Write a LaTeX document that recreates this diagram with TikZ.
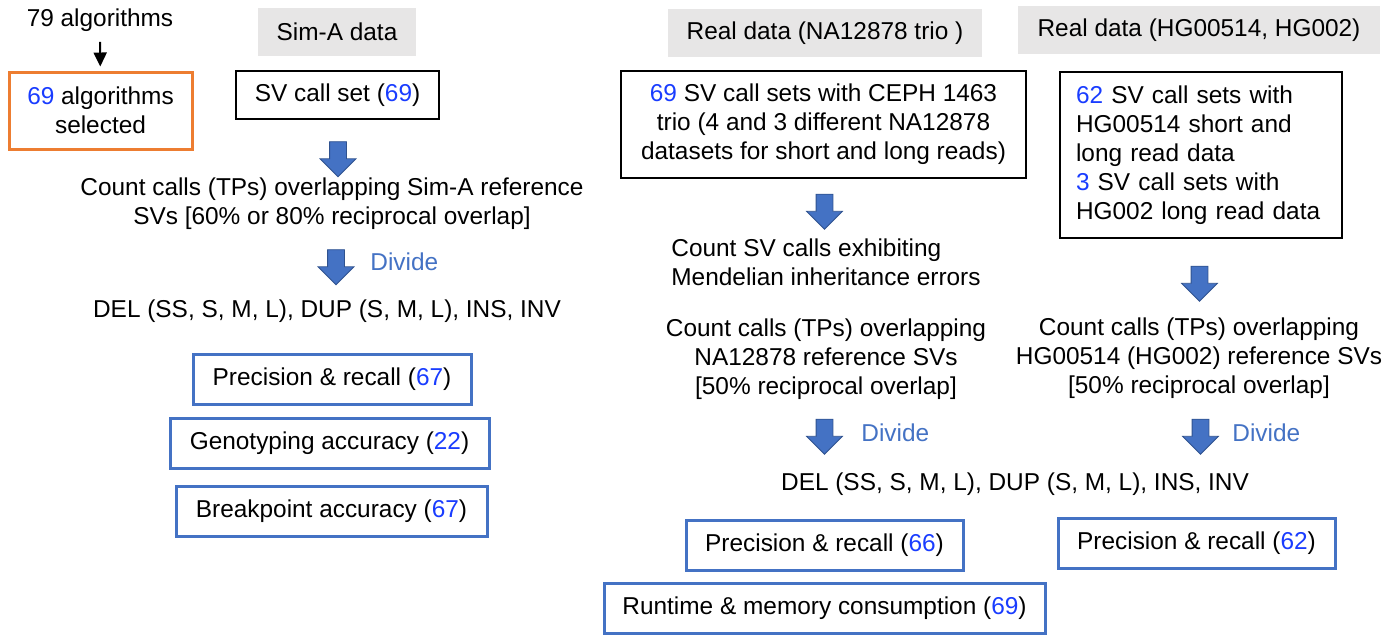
\documentclass[tikz,border=0pt]{standalone}
\usepackage{fontspec}
\setmainfont{Liberation Sans}
\usetikzlibrary{shapes.arrows,positioning,arrows.meta}
\definecolor{numblue}{RGB}{25,60,255}
\definecolor{boxblue}{RGB}{68,114,196}
\definecolor{arrowedge}{RGB}{47,82,143}
\definecolor{headgrey}{RGB}{231,230,230}
\definecolor{selorange}{RGB}{237,125,49}
\newcommand{\bnum}[1]{\textcolor{numblue}{#1}}
\tikzset{header/.style={fill=headgrey,minimum height=24pt,inner sep=0pt}}
\tikzset{callset/.style={draw=black,line width=1pt,align=center,inner sep=0pt}}
\tikzset{measure/.style={draw=boxblue,line width=1.5pt,minimum height=25pt,inner sep=0pt}}
\tikzset{downarrow/.style={single arrow,shape border rotate=270,draw=arrowedge,fill=boxblue,line width=0.4pt,minimum height=17.5pt,minimum width=16.5pt,single arrow head extend=4.75pt,inner sep=4pt}}
\tikzset{plain/.style={align=center,inner sep=0pt}}
\tikzset{divide/.style={text=boxblue,inner sep=0pt,anchor=west}}

\begin{document}
\begin{tikzpicture}[x=0.5pt,y=-0.5pt,font=\fontsize{12.2}{14.5}\selectfont]
\useasboundingbox (0,0) rectangle (1385,634);

% Sim-A data
\node[plain] (algos) at (100,20) {79 algorithms};
\node[draw=selorange,line width=1.5pt,align=center,minimum width=91.5pt,minimum height=38.5pt,inner sep=0pt] (selected) at (100.5,110.5) {\bnum{69} algorithms\\selected};
\draw[-{Triangle[length=7pt,width=6.5pt]},line width=1pt,shorten <=5pt,shorten >=2pt] (algos) -- (selected);

\node[header,minimum width=79pt] (simhead) at (337,32) {Sim-A data};
\node[callset,minimum width=101.5pt,minimum height=24pt] (simset) at (337.5,95) {SV call set (\bnum{69})};
\node[downarrow] (simarrowa) at (338,155) {};
\node[plain] (simcount) at (332,204) {Count calls (TPs) overlapping Sim-A reference\\SVs [60\% or 80\% reciprocal overlap]};
\node[downarrow] (simarrowb) at (336,263) {};
\node[divide] (simdivide) at (370,262) {Divide};
\node[plain] (simtypes) at (327,311) {DEL (SS, S, M, L), DUP (S, M, L), INS, INV};
\node[measure,minimum width=139pt] (simprec) at (332,379) {Precision \& recall (\bnum{67})};
\node[measure,minimum width=159.5pt] (simgeno) at (329.5,443.5) {Genotyping accuracy (\bnum{22})};
\node[measure,minimum width=155.5pt] (simbreak) at (331.5,511) {Breakpoint accuracy (\bnum{67})};

% NA12878 trio
\node[header,minimum width=157pt] (triohead) at (825,33) {Real data (NA12878 trio )};
\node[callset,minimum width=202.5pt,minimum height=53.5pt] (trioset) at (823.5,124.5) {\bnum{69} SV call sets with CEPH 1463\\trio (4 and 3 different NA12878\\datasets for short and long reads)};
\node[downarrow] (trioarrowa) at (824.5,207.5) {};
\node[plain,align=left,anchor=west] (mendel) at (671,262) {Count SV calls exhibiting\\Mendelian inheritance errors};
\node[plain] (triocount) at (826,359) {Count calls (TPs) overlapping\\NA12878 reference SVs\\{[}50\% reciprocal overlap{]}};
\node[downarrow] (trioarrowb) at (824.5,432.5) {};
\node[divide] (triodivide) at (861,433) {Divide};
\node[plain] (types) at (1015,484) {DEL (SS, S, M, L), DUP (S, M, L), INS, INV};
\node[measure,minimum width=138.5pt] (trioprec) at (824.5,545) {Precision \& recall (\bnum{66})};
\node[measure,minimum width=220.5pt] (runtime) at (824.5,608) {Runtime \& memory consumption (\bnum{69})};

% HG00514, HG002
\node[header,minimum width=181pt] (hghead) at (1199,30) {Real data (HG00514, HG002)};
\node[callset,align=left,text width=125pt,inner xsep=8pt,minimum height=83pt] (hgset) at (1201,155) {\bnum{62} SV call sets with\\HG00514 short and\\long read data\\\bnum{3} SV call sets with\\HG002 long read data};
\node[downarrow] (hgarrowa) at (1199.5,279.5) {};
\node[plain] (hgcount) at (1199,358) {Count calls (TPs) overlapping\\HG00514 (HG002) reference SVs\\{[}50\% reciprocal overlap{]}};
\node[downarrow] (hgarrowb) at (1200.5,432.5) {};
\node[divide] (hgdivide) at (1232,433) {Divide};
\node[measure,minimum width=138.5pt] (hgprec) at (1196.5,543) {Precision \& recall (\bnum{62})};

\end{tikzpicture}
\end{document}
